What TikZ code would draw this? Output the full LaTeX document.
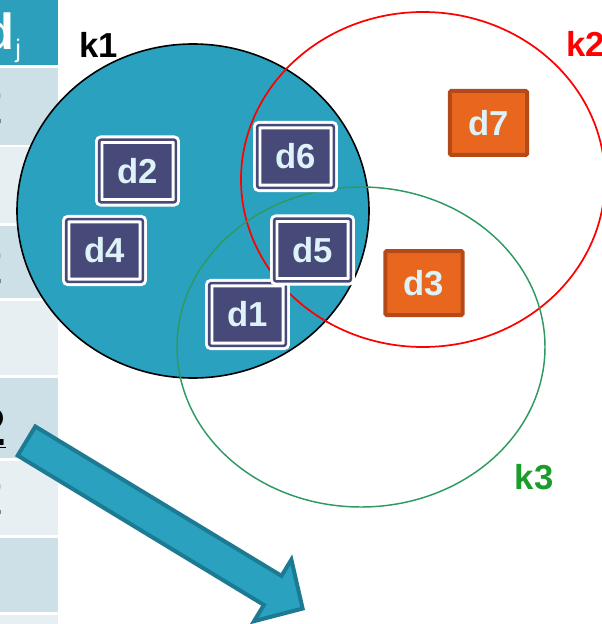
\documentclass[tikz,border=0pt]{standalone}
\usepackage{fontspec}
\setmainfont{Liberation Sans}
\usepackage{tikz}
\usetikzlibrary{shadows}
\usepackage{xcolor}

\definecolor{setteal}{HTML}{2AA1BE}
\definecolor{arrowedge}{HTML}{1C7A92}
\definecolor{docnavy}{HTML}{474A78}
\definecolor{doctext}{HTML}{DDF3F8}
\definecolor{docorange}{HTML}{E9661F}
\definecolor{orangeedge}{HTML}{B4491A}
\definecolor{ringgreen}{HTML}{2E9A62}
\definecolor{labelgreen}{HTML}{1A9C2B}
\definecolor{rowdark}{HTML}{CEE0E7}
\definecolor{rowlight}{HTML}{E7EFF2}
\definecolor{headteal}{HTML}{2B9FBC}

\tikzset{
  docin/.style={draw=white, double=docnavy, double distance=1.9pt, line width=2.2pt,
    fill=docnavy, rounded corners=1.5pt, minimum width=57.4pt, minimum height=47pt,
    inner sep=0pt, text=doctext, font=\fontsize{26}{30}\selectfont\bfseries,
    drop shadow={opacity=0.3, shadow xshift=1pt, shadow yshift=-1.5pt}},
  docout/.style={draw=orangeedge, line width=3pt, fill=docorange, rounded corners=1pt,
    minimum width=58pt, minimum height=48pt, inner sep=0pt, text=doctext,
    font=\fontsize{26}{30}\selectfont\bfseries},
  setlabel/.style={font=\fontsize{26}{30}\selectfont\bfseries, inner sep=0pt},
  cellfrag/.style={anchor=east, inner sep=0pt, font=\fontsize{40}{40}\selectfont}
}

\begin{document}
\begin{tikzpicture}[x=0.75pt, y=-0.75pt]
    \useasboundingbox (0,0) rectangle (602,624);
    \clip (0,0) rectangle (602,624);

    % table strip on the left
    \fill[headteal] (0,0) rectangle (58,65);
    \fill[rowdark]  (0,68) rectangle (58,145);
    \fill[rowlight] (0,147) rectangle (58,223);
    \fill[rowdark]  (0,226) rectangle (58,298);
    \fill[rowlight] (0,301) rectangle (58,375);
    \fill[rowdark]  (0,378) rectangle (58,458);
    \fill[rowlight] (0,461) rectangle (58,535);
    \fill[rowdark]  (0,538) rectangle (58,612);
    \fill[rowlight] (0,615) rectangle (58,624);

    % header and cell text
    \node (hdd) [anchor=base east, inner sep=0pt, text=white, font=\fontsize{38}{40}\selectfont\bfseries] at (15,50) {d};
    \node (hdj) [anchor=base west, inner sep=0pt, text=white, font=\fontsize{19}{20}\selectfont] at (15,58) {j};
    \node (cell1) [cellfrag, text=gray] at (4,105) {2};
    \node (cell3) [cellfrag, text=gray] at (4,265) {2};
    \node (cell5) [cellfrag, font=\fontsize{40}{40}\selectfont\bfseries] at (6,428) {\underline{2}};
    \node (cell6) [cellfrag, text=gray] at (4,496) {2};

    % sets
    \fill[setteal] (193,211) ellipse [x radius=176, y radius=167];
    \draw[black, line width=1.2pt] (193,211) ellipse [x radius=176, y radius=167];
    \draw[red, line width=1.3pt] (423,179.5) ellipse [x radius=182, y radius=167.5];
    \draw[ringgreen, line width=1.1pt] (361,347) ellipse [x radius=184, y radius=160];

    % documents
    \node (d2) [docin] at (137.5,171) {d2};
    \node (d4) [docin] at (104.5,250.5) {d4};
    \node (d6) [docin] at (295.5,156.5) {d6};
    \node (d1) [docin] at (247.5,314.5) {d1};
    \node (d5) [docin] at (312.5,250) {d5};
    \node (d7) [docout] at (488.5,123) {d7};
    \node (d3) [docout] at (424,283) {d3};

    % set names
    \node (labk1) [setlabel, text=black] at (98.5,44.5) {k1};
    \node (labk2) [setlabel, text=red, anchor=west] at (566,43.5) {k2};
    \node (labk3) [setlabel, text=labelgreen] at (534,477.5) {k3};

    % big arrow
    \begin{scope}[shift={(26.5,441)}, rotate=-31.25]
        \draw[draw=arrowedge, fill=setteal, line width=3pt, line join=miter]
            (0,-17) -- (288,-17) -- (288,-36) -- (323,0) -- (288,36) -- (288,17) -- (0,17) -- cycle;
    \end{scope}
\end{tikzpicture}
\end{document}
